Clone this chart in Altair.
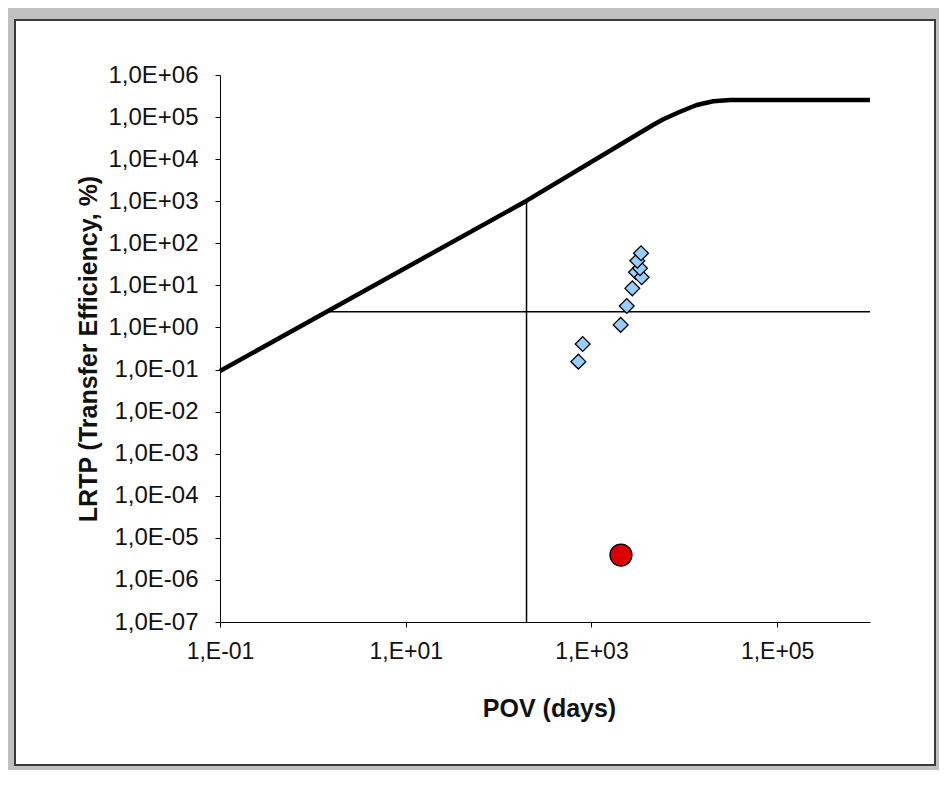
import altair as alt
import pandas as pd

# ---- data ----
curve_x = [0.1, 201, 4600, 5940, 9000, 13600, 20500, 31000, 1e6]
curve_y = [0.0925, 1030, 6.5e4, 8.85e4, 1.34e5, 1.94e5, 2.37e5, 2.55e5, 2.55e5]

obs_x = [723, 805, 2065, 2400, 2754, 3020, 3475, 3335, 3120, 3420]
obs_y = [0.154, 0.405, 1.15, 3.24, 8.5, 20.5, 15.6, 25.5, 38.6, 58]

target_x = [2080]
target_y = [3.9e-6]

ref_pov = [200]
ref_pov_bottom = [1e-7]
ref_pov_top = [1030]
ref_lrtp = [2.37]
ref_lrtp_start = [1.5]
ref_lrtp_end = [1e6]

x_ticks = [0.1, 10, 1000, 100000]
x_tick_labels = ["1,E-01", "1,E+01", "1,E+03", "1,E+05"]
y_ticks = [1e-7, 1e-6, 1e-5, 1e-4, 1e-3, 1e-2, 1e-1, 1, 10, 100, 1e3, 1e4, 1e5, 1e6]
y_tick_labels = ["1,0E-07", "1,0E-06", "1,0E-05", "1,0E-04", "1,0E-03", "1,0E-02",
                 "1,0E-01", "1,0E+00", "1,0E+01", "1,0E+02", "1,0E+03", "1,0E+04",
                 "1,0E+05", "1,0E+06"]

x_title = "POV (days)"
y_title = "LRTP (Transfer Efficiency, %)"

FONT = "Liberation Sans"

curve_df = pd.DataFrame({"x": curve_x, "y": curve_y, "o": list(range(len(curve_x)))})
obs_df = pd.DataFrame({"x": obs_x, "y": obs_y})
target_df = pd.DataFrame({"x": target_x, "y": target_y})
vline_df = pd.DataFrame({"x": ref_pov, "y": ref_pov_bottom, "y2": ref_pov_top})
hline_df = pd.DataFrame({"x": ref_lrtp_start, "x2": ref_lrtp_end, "y": ref_lrtp})

x_lab_arr = "[" + ",".join("'%s'" % s for s in x_tick_labels) + "]"
y_lab_arr = "[" + ",".join("'%s'" % s for s in y_tick_labels) + "]"

x_scale = alt.Scale(type="log", domain=[0.1, 1e6], nice=False)
y_scale = alt.Scale(type="log", domain=[1e-7, 1e6], nice=False)

x_axis = alt.Axis(
    values=x_ticks, grid=False, title=x_title, zindex=1,
    labelExpr=x_lab_arr + "[round((log(datum.value)/LN10 + 1)/2)]",
    labelFont=FONT, labelFontSize=23, labelColor="#111111", labelPadding=13,
    tickSize=5, tickColor="black", domainColor="black", tickWidth=1, domainWidth=1,
    labelFlush=False, labelOverlap=False,
    titleFont=FONT, titleFontSize=25, titleFontWeight="bold", titleColor="#111111",
    titleX=329, titleY=94, titleAlign="center", titleBaseline="alphabetic",
)
y_axis = alt.Axis(
    values=y_ticks, grid=False, title=y_title, zindex=1,
    labelExpr=y_lab_arr + "[round(log(datum.value)/LN10) + 7]",
    labelFont=FONT, labelFontSize=24, labelColor="#111111", labelPadding=17,
    tickSize=5, tickColor="black", domainColor="black", tickWidth=1, domainWidth=1,
    labelFlush=False, labelOverlap=False,
    titleFont=FONT, titleFontSize=25, titleFontWeight="bold", titleColor="#111111",
    titleX=-124, titleY=273.5, titleAngle=270, titleAlign="center", titleBaseline="alphabetic",
)

frame = alt.Chart(alt.Data(values=[{"a": 1}])).mark_rect(
    fill="white", stroke="#3a3a3a", strokeWidth=2
).encode(
    x=alt.value(-205), x2=alt.value(715), y=alt.value(-55), y2=alt.value(690)
)

curve = alt.Chart(curve_df).mark_line(color="black", strokeWidth=4.5, strokeJoin="round").encode(
    x=alt.X("x:Q", scale=x_scale, axis=x_axis),
    y=alt.Y("y:Q", scale=y_scale, axis=y_axis),
    order="o:Q",
)

vline = alt.Chart(vline_df).mark_rule(color="black", strokeWidth=1.5).encode(
    x=alt.X("x:Q", scale=x_scale, axis=x_axis),
    y=alt.Y("y:Q", scale=y_scale, axis=y_axis),
    y2="y2:Q",
)

hline = alt.Chart(hline_df).mark_rule(color="black", strokeWidth=1.5).encode(
    x=alt.X("x:Q", scale=x_scale, axis=x_axis),
    x2="x2:Q",
    y=alt.Y("y:Q", scale=y_scale, axis=y_axis),
)

obs = alt.Chart(obs_df).mark_point(
    shape="diamond", size=220, filled=True, fill="#99ccff", stroke="black",
    strokeWidth=1.3, opacity=1
).encode(
    x=alt.X("x:Q", scale=x_scale, axis=x_axis),
    y=alt.Y("y:Q", scale=y_scale, axis=y_axis),
)

target = alt.Chart(target_df).mark_point(
    shape="circle", size=480, filled=True, fill="#dd0000", stroke="black",
    strokeWidth=1.3, opacity=1
).encode(
    x=alt.X("x:Q", scale=x_scale, axis=x_axis),
    y=alt.Y("y:Q", scale=y_scale, axis=y_axis),
)

chart = alt.layer(frame, vline, hline, curve, obs, target).properties(
    width=650, height=547,
    autosize=alt.AutoSizeParams(type="none"),
    padding={"left": 212, "top": 67, "right": 69, "bottom": 148},
    background="#c0c0c0",
).configure_view(stroke=None)

chart.save("out.html", embed_options={"renderer": "svg", "actions": False})
